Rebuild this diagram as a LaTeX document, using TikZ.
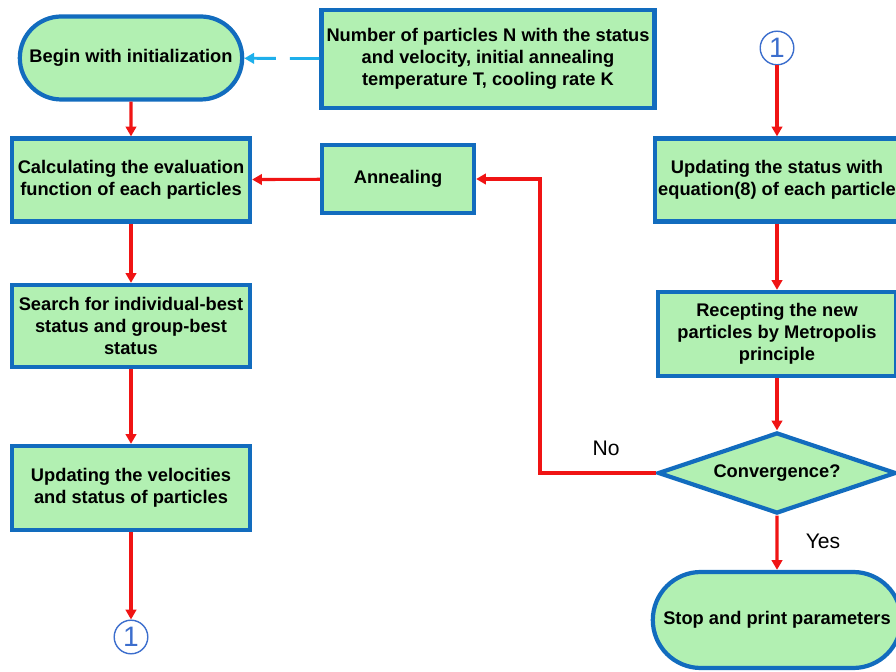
\documentclass[tikz,border=0pt]{standalone}
\usepackage{fontspec}
\setmainfont{Liberation Sans}
\usetikzlibrary{shapes.geometric,shapes.misc,arrows.meta}
\definecolor{boxfill}{RGB}{178,240,178}
\definecolor{boxline}{RGB}{18,108,190}
\definecolor{flowred}{RGB}{240,20,20}
\definecolor{dashblue}{RGB}{30,175,235}
\definecolor{connblue}{RGB}{60,110,205}
\begin{document}
\begin{tikzpicture}[
	box/.style={draw=boxline,line width=3pt,fill=boxfill,align=center,inner sep=2pt,font=\bfseries\fontsize{13}{15.6}\selectfont},
	term/.style={box,rounded rectangle},
	decide/.style={box,diamond,aspect=2.94,inner sep=0pt},
	conn/.style={circle,draw=connblue,line width=1pt,text=connblue,inner sep=0pt,minimum size=0.84cm,font=\fontsize{20}{20}\selectfont},
	flow/.style={draw=flowred,line width=2.2pt,-{Triangle[length=7pt,width=7.5pt]}},
	lbl/.style={font=\fontsize{15}{15}\selectfont}]
	\useasboundingbox (0,0) rectangle (22.4,16.8);
	\node[term,minimum width=5.7cm,minimum height=2.075cm] (begin) at (3.275,15.35) {Begin with initialization};
	\node[box,minimum width=8.325cm,minimum height=2.45cm] (input) at (12.2,15.325) {Number of particles N with the status\\and velocity, initial annealing\\temperature T, cooling rate K};
	\node[box,minimum width=5.95cm,minimum height=2.075cm] (calc) at (3.275,12.3) {Calculating the evaluation\\function of each particles};
	\node[box,minimum width=3.8cm,minimum height=1.7cm] (anneal) at (9.95,12.325) {Annealing};
	\node[box,minimum width=5.95cm,minimum height=2.05cm] (search) at (3.275,8.65) {Search for individual-best\\status and group-best\\status};
	\node[box,minimum width=5.95cm,minimum height=2.1cm] (updvel) at (3.275,4.6) {Updating the velocities\\and status of particles};
	\node[conn] (outone) at (3.275,0.875) {1};
	\node[conn] (inone) at (19.425,15.6) {1};
	\node[box,minimum width=6.1cm,minimum height=2.075cm] (updstat) at (19.425,12.3) {Updating the status with\\equation(8) of each particle};
	\node[box,minimum width=5.95cm,minimum height=2.1cm] (recept) at (19.425,8.45) {Recepting the new\\particles by Metropolis\\principle};
	\node[decide,minimum width=5.95cm,minimum height=2.025cm] (conv) at (19.425,4.975) {Convergence?};
	\node[term,minimum width=6.35cm,minimum height=2.4cm] (stop) at (19.425,1.3) {Stop and print parameters};
	\coordinate (bend) at (13.5,4.975);
	\draw[dashblue,line width=2pt,dash pattern=on 21pt off 10pt,-{Triangle[length=7pt,width=7.5pt]}] (input) -- (begin);
	\draw[flow] (begin) -- (calc);
	\draw[flow] (calc) -- (search);
	\draw[flow] (search) -- (updvel);
	\draw[flow] (updvel) -- (outone);
	\draw[flow] (anneal) -- (calc);
	\draw[flow] (inone) -- (updstat);
	\draw[flow] (updstat) -- (recept);
	\draw[flow] (recept) -- (conv);
	\draw[flow] (conv) -- (stop);
	\draw[flow] (conv.west) -- (bend) |- (anneal.east);
	\node[lbl] (no) at (15.15,5.6) {No};
	\node[lbl] (yes) at (20.575,3.275) {Yes};
\end{tikzpicture}
\end{document}
